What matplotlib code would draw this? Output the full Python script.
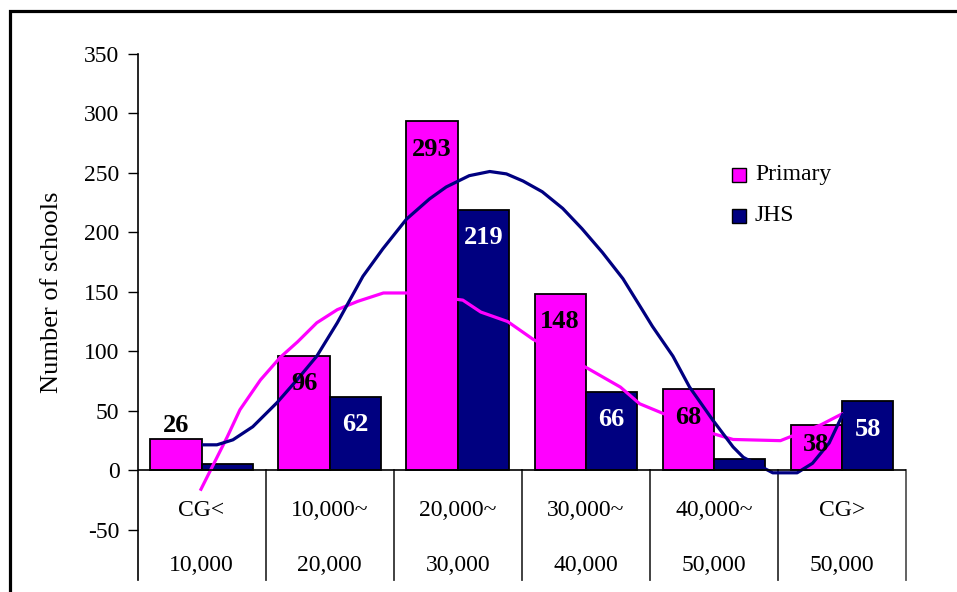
import matplotlib
matplotlib.use("Agg")
import matplotlib.pyplot as plt
from matplotlib.lines import Line2D
from matplotlib.patches import Rectangle
import numpy as np

plt.rcParams['font.family'] = ['Liberation Serif', 'DejaVu Serif']
plt.rcParams['axes.unicode_minus'] = False

# ---- data ----
row1_labels = ["CG<", "10,000~", "20,000~", "30,000~", "40,000~", "CG>"]
row2_labels = ["10,000", "20,000", "30,000", "40,000", "50,000", "50,000"]
primary = [26, 96, 293, 148, 68, 38]
jhs = [5, 62, 219, 66, 10, 58]
primary_labelled = [True, True, True, True, True, True]
jhs_labelled = [False, True, True, True, False, True]

# trend curves (x in category units, y in number of schools)
primary_trend_x = [-0.01, 0.20, 0.30, 0.46, 0.615, 0.75, 0.90, 1.06, 1.22, 1.42,
                   1.61, 2.04, 2.18, 2.39, 2.59, 3.01, 3.27, 3.42, 3.60, 3.99,
                   4.15, 4.52, 4.59, 4.83, 5.01]
primary_trend_y = [-17, 28, 51, 76, 95, 108, 124, 135, 142, 149,
                   149, 143, 133, 125, 110, 86, 70, 56, 48, 31,
                   26, 25, 28, 38, 48]
jhs_trend_x = [0.003, 0.12, 0.245, 0.40, 0.59, 0.745, 0.90, 1.06, 1.26, 1.415,
               1.60, 1.78, 1.91, 2.09, 2.25, 2.38, 2.51, 2.66, 2.82, 2.97,
               3.13, 3.29, 3.44, 3.52, 3.68, 3.81, 3.99, 4.15, 4.23, 4.46,
               4.65, 4.77, 4.90, 5.01]
jhs_trend_y = [21.5, 21.5, 25.7, 36.7, 57, 76, 96, 124, 163, 186,
               211, 228, 238, 247.5, 251, 249, 243, 234, 220, 203,
               183, 161, 135, 121, 96, 70, 42.5, 19.7, 11, -2,
               -2, 6, 23, 48]

series_names = ["Primary", "JHS"]
MAGENTA = "#FF00FF"
NAVY = "#000080"

W, H = 957, 592
fig = plt.figure(figsize=(W / 100, H / 100), dpi=100)
ax_l, ax_r, ax_t, ax_b = 137.5, 906, 53.6, 580
ax = fig.add_axes([ax_l / W, 1 - ax_b / H, (ax_r - ax_l) / W, (ax_b - ax_t) / H])

x = np.arange(len(primary))
bw = 0.4
ax.bar(x - bw / 2, primary, width=bw, color=MAGENTA, edgecolor="black", linewidth=1.3, zorder=2)
ax.bar(x + bw / 2, jhs, width=bw, color=NAVY, edgecolor="black", linewidth=1.3, zorder=2)

ax.plot(primary_trend_x, primary_trend_y, color=MAGENTA, lw=2.3, zorder=3,
        solid_joinstyle="round", solid_capstyle="butt")
ax.plot(jhs_trend_x, jhs_trend_y, color=NAVY, lw=2.3, zorder=3,
        solid_joinstyle="round", solid_capstyle="butt")

lab_font = dict(fontsize=19, fontweight="bold", ha="center", va="center", zorder=5)
for xi, v, show in zip(x, primary, primary_labelled):
    if not show:
        continue
    if v < 30:
        off = 10
    elif v < 45:
        off = -14
    else:
        off = -20
    ax.annotate(str(v), (xi - bw / 2, v), xytext=(0, off), textcoords="offset points",
                color="black", **lab_font)
for xi, v, show in zip(x, jhs, jhs_labelled):
    if not show:
        continue
    ax.annotate(str(v), (xi + bw / 2, v), xytext=(0, -20), textcoords="offset points",
                color="white", **lab_font)

ax.set_xlim(-0.5, len(primary) - 0.5)
ax.set_ylim(-92, 350)
ax.set_yticks(np.arange(-50, 351, 50))
ax.tick_params(axis="y", direction="out", length=7, width=1, labelsize=17, pad=6)
ax.set_xticks([])
for s in ("top", "right", "bottom"):
    ax.spines[s].set_visible(False)
ax.spines["left"].set_linewidth(1.2)

# category table below the zero line
ax.axhline(0, color="black", lw=1.2, zorder=4)
for b in np.arange(0.5, len(primary) + 0.5, 1):
    col = "#555555" if b > len(primary) - 1 else "#333333"
    ax.plot([b, b], [0, -92], color=col, lw=1.3, zorder=1, clip_on=False)
for xi, a, b in zip(x, row1_labels, row2_labels):
    ax.text(xi, -34, a, ha="center", va="center", fontsize=17)
    ax.text(xi, -80, b, ha="center", va="center", fontsize=17)

ax.set_ylabel("Number of schools", fontsize=19)
ax.yaxis.set_label_coords(-0.097, 0.547)

# legend
for i, (name, col) in enumerate(zip(series_names, [MAGENTA, NAVY])):
    yc = 0.7694 - i * 0.0770
    ax.add_patch(Rectangle((0.7736, yc - 0.0133), 0.0182, 0.0266, transform=ax.transAxes,
                           facecolor=col, edgecolor="black", lw=1.0, clip_on=False))
    ax.text(0.8035, yc, name, transform=ax.transAxes, ha="left", va="center", fontsize=17)

# outer frame
fx = 10 / W
fy = 1 - 11 / H
fig.add_artist(Line2D([fx, fx, 1.0], [0.0, fy, fy], transform=fig.transFigure,
                      color="black", lw=2.3, solid_joinstyle="miter"))

fig.savefig("out.png", dpi=100)
